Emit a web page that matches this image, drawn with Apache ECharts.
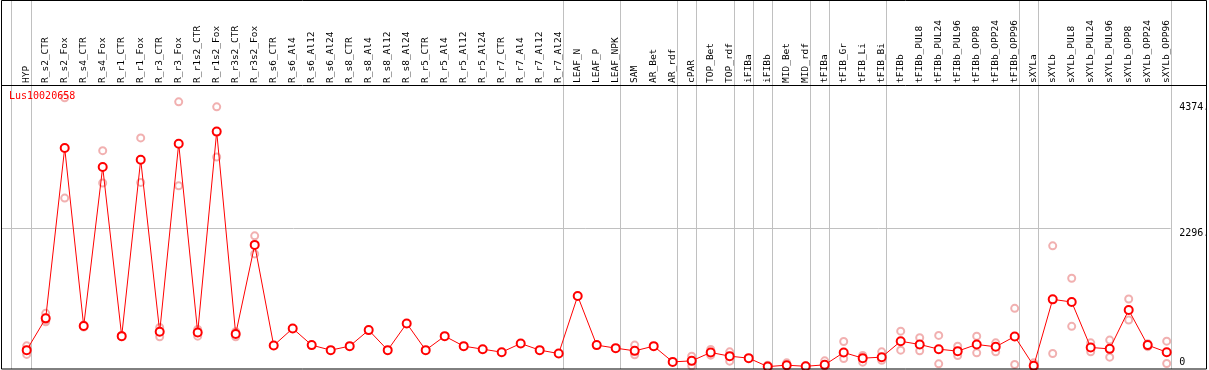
<!DOCTYPE html>
<html>
<head>
<meta charset="utf-8">
<script src="https://cdn.jsdelivr.net/npm/echarts@6/dist/echarts.min.js"></script>
<style>
html, body { margin: 0; padding: 0; background: #fff; }
#chart { width: 1209px; height: 370px; }
</style>
</head>
<body>
<div id="chart"></div>
<script>
const geneName = 'Lus10020658'

const categories = [
  'HYP', 'R_s2_CTR', 'R_s2_Fox', 'R_s4_CTR', 'R_s4_Fox', 'R_r1_CTR', 'R_r1_Fox',
  'R_r3_CTR', 'R_r3_Fox', 'R_r1s2_CTR', 'R_r1s2_Fox', 'R_r3s2_CTR', 'R_r3s2_Fox',
  'R_s6_CTR', 'R_s6_Al4', 'R_s6_Al12', 'R_s6_Al24', 'R_s8_CTR', 'R_s8_Al4', 'R_s8_Al12', 'R_s8_Al24',
  'R_r5_CTR', 'R_r5_Al4', 'R_r5_Al12', 'R_r5_Al24', 'R_r7_CTR', 'R_r7_Al4', 'R_r7_Al12', 'R_r7_Al24',
  'LEAF_N', 'LEAF_P', 'LEAF_NPK', 'SAM', 'AR_Bet', 'AR_rdf', 'cPAR', 'TOP_Bet', 'TOP_rdf',
  'iFIBa', 'iFIBb', 'MID_Bet', 'MID_rdf', 'tFIBa', 'tFIB_Gr', 'tFIB_Li', 'tFIB_Bi',
  'tFIBb', 'tFIBb_PUL8', 'tFIBb_PUL24', 'tFIBb_PUL96', 'tFIBb_OPP8', 'tFIBb_OPP24', 'tFIBb_OPP96',
  'sXYLa', 'sXYLb', 'sXYLb_PUL8', 'sXYLb_PUL24', 'sXYLb_PUL96', 'sXYLb_OPP8', 'sXYLb_OPP24', 'sXYLb_OPP96'
]

// mean expression per sample
const meanValues = [
  273, 800, 3626, 672, 3310, 505, 3431, 577, 3697, 565, 3897, 539, 2018,
  350, 633, 356, 273, 339, 605, 273, 716,
  273, 505, 339, 289, 239, 383, 273, 217,
  1170, 356, 306, 261, 339, 78, 95, 234, 173,
  140, 0, 23, 5, 29, 234, 140, 156,
  420, 367, 289, 256, 367, 328, 500,
  12, 1115, 1071, 317, 294, 938, 356, 239
]

// single replicate values per sample
const replicates = [
  [344, 202], [883, 743, 775], [4457, 2795], [690, 655], [3581, 3044], [515, 495], [3792, 3054],
  [650, 494], [4391, 2999], [617, 505], [4308, 3476], [577, 494], [2168, 1869],
  [], [], [], [], [], [], [], [],
  [], [], [], [], [], [], [], [],
  [], [], [], [356, 230, 195], [], [], [173, 12], [284, 190], [245, 90],
  [], [22], [62, 8], [12, 0], [95, 10], [417, 134], [184, 73], [245, 106],
  [588, 273], [478, 262], [517, 45], [339, 184], [505, 228], [394, 245], [966, 35],
  [62], [2002, 218], [1465, 667], [394, 245], [439, 156], [1120, 771], [380, 330], [422, 51]
]

// y values labelled on the right
const yMarks = [4374, 2296, 0]
const yMarkLabels = ['4374.', '2296.', '0']
const gridValue = 2296

// last sample of each group (separator drawn after it)
const groupEnds = [0, 28, 31, 34, 35, 37, 38, 39, 41, 42, 45, 52, 53, 60]

const mono = 'DejaVu Sans Mono'
const repData = []
replicates.forEach((list, i) => list.forEach(v => repData.push([i, v])))

let myChart = echarts.init(document.getElementById('chart'))
let option = {
  animation: false,
  title: {
    text: geneName,
    left: 9,
    top: 91,
    padding: 0,
    textStyle: { color: '#ff0000', fontFamily: mono, fontSize: 10, fontWeight: 'normal' }
  },
  grid: { left: 17.2, right: 32.8, top: 85, bottom: 1 },
  xAxis: {
    type: 'category',
    position: 'top',
    data: categories,
    boundaryGap: true,
    axisLine: { show: false },
    axisTick: { show: false },
    splitLine: { show: false },
    axisLabel: { interval: 0, rotate: 90, margin: 2, color: '#000', fontFamily: mono, fontSize: 9.5 }
  },
  yAxis: { type: 'value', min: -40, max: 4670, show: false },
  series: [
    {
      type: 'scatter',
      data: repData,
      symbol: 'emptyCircle',
      symbolSize: 7,
      silent: true,
      z: 2,
      itemStyle: { color: '#ee9c9c', borderWidth: 1.4 }
    },
    {
      type: 'line',
      data: meanValues,
      symbol: 'emptyCircle',
      symbolSize: 8,
      silent: true,
      z: 3,
      lineStyle: { color: '#ff0000', width: 1 },
      itemStyle: { color: '#ff0000', borderWidth: 1.4 },
      markLine: {
        silent: true,
        symbol: 'none',
        animation: false,
        label: { position: 'end', distance: 3, color: '#000', fontFamily: mono, fontSize: 10 },
        data: yMarks.map((v, k) => ({
          yAxis: v,
          lineStyle: { color: 'transparent', width: 1, type: 'solid' },
          label: { formatter: yMarkLabels[k], offset: v === 0 ? [0, -4] : [0, 5] }
        }))
      }
    }
  ]
}
myChart.setOption(option)

// frame, top rule, grid line and group separators
const graphics = [
  { type: 'rect', z: 10, shape: { x: 1.5, y: 0.5, width: 1205, height: 368.5 }, style: { fill: 'none', stroke: '#000', lineWidth: 1 } },
  { type: 'line', z: 10, shape: { x1: 1, y1: 85.5, x2: 1207, y2: 85.5 }, style: { stroke: '#000', lineWidth: 1 } }
]
const toX = i => myChart.convertToPixel({ xAxisIndex: 0 }, i)
const step = toX(1) - toX(0)
const sepX = [toX(0) - step + 3]
groupEnds.forEach(i => sepX.push(toX(i) + 4))
sepX.forEach(x => {
  const px = Math.round(x) + 0.5
  graphics.push({ type: 'line', z: 0, silent: true, shape: { x1: px, y1: 0, x2: px, y2: 369 }, style: { stroke: '#c0c0c0', lineWidth: 1 } })
})
const gy = Math.round(myChart.convertToPixel({ yAxisIndex: 0 }, gridValue)) + 0.5
graphics.push({ type: 'line', z: 0, silent: true, shape: { x1: 1, y1: gy, x2: sepX[sepX.length - 1], y2: gy }, style: { stroke: '#c0c0c0', lineWidth: 1 } })
myChart.setOption({ graphic: graphics })

window.addEventListener('resize', function () {
  myChart.resize()
})
</script>
</body>
</html>
